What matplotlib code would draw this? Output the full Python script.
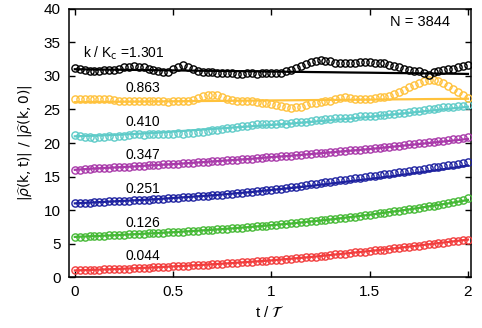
import numpy as np
import matplotlib
matplotlib.use("Agg")
from matplotlib import pyplot as plt

plt.rcParams['font.family'] = ['Liberation Sans', 'DejaVu Sans']
plt.rcParams['mathtext.fontset'] = 'dejavusans'

# time axis for the measured points (81) and the theory curves (21)
t_pts = np.linspace(0, 2, 81)
t_line = np.linspace(0, 2, 21)

labels = ["0.044", "0.126", "0.251", "0.347", "0.410", "0.863", "k / K$_\\mathrm{c}$ =1.301"]
label_y = [3.1, 8.1, 13.1, 18.2, 23.1, 28.2, 33.4]
colors = ["#f23d3d", "#45b935", "#1e22a0", "#a93aaa", "#5ecbc8", "#ffc23c", "#000000"]

red_pts = [1.0, 1.02, 1.05, 1.08, 1.1, 1.12, 1.15, 1.18, 1.2, 1.23, 1.26, 1.29,
           1.32, 1.35, 1.38, 1.42, 1.45, 1.49, 1.52, 1.56, 1.6, 1.64, 1.67, 1.71,
           1.75, 1.79, 1.83, 1.88, 1.92, 1.96, 2.01, 2.05, 2.1, 2.15, 2.2, 2.25,
           2.3, 2.35, 2.4, 2.45, 2.5, 2.56, 2.62, 2.69, 2.75, 2.81, 2.88, 2.94,
           3.0, 3.08, 3.15, 3.22, 3.3, 3.38, 3.45, 3.52, 3.6, 3.68, 3.75, 3.82,
           3.9, 3.98, 4.05, 4.12, 4.2, 4.29, 4.38, 4.46, 4.55, 4.64, 4.72, 4.81,
           4.9, 4.99, 5.08, 5.16, 5.25, 5.34, 5.42, 5.51, 5.6]
green_pts = [6.0, 6.03, 6.06, 6.09, 6.12, 6.15, 6.19, 6.22, 6.25, 6.29, 6.33, 6.36,
             6.4, 6.44, 6.48, 6.51, 6.55, 6.59, 6.63, 6.66, 6.7, 6.75, 6.79, 6.84,
             6.88, 6.93, 6.97, 7.02, 7.07, 7.12, 7.17, 7.22, 7.27, 7.33, 7.39, 7.44,
             7.5, 7.56, 7.63, 7.69, 7.75, 7.81, 7.88, 7.94, 8.0, 8.08, 8.15, 8.22,
             8.3, 8.38, 8.45, 8.52, 8.6, 8.69, 8.78, 8.86, 8.95, 9.04, 9.13, 9.21,
             9.3, 9.4, 9.5, 9.6, 9.7, 9.8, 9.9, 10.0, 10.1, 10.21, 10.33, 10.44,
             10.55, 10.66, 10.78, 10.89, 11.0, 11.15, 11.3, 11.5, 11.75]
blue_pts = [11.0, 11.05, 11.1, 11.1, 11.15, 11.2, 11.25, 11.3, 11.3, 11.35, 11.4, 11.4,
            11.45, 11.5, 11.55, 11.55, 11.6, 11.65, 11.7, 11.75, 11.8, 11.85, 11.9, 11.95,
            12.0, 12.05, 12.1, 12.15, 12.2, 12.25, 12.3, 12.4, 12.45, 12.5, 12.55, 12.65,
            12.7, 12.8, 12.85, 12.95, 13.0, 13.1, 13.2, 13.3, 13.4, 13.5, 13.6, 13.7,
            13.85, 13.95, 14.05, 14.15, 14.25, 14.35, 14.45, 14.55, 14.65, 14.75, 14.85, 14.95,
            15.05, 15.15, 15.25, 15.35, 15.45, 15.55, 15.65, 15.75, 15.85, 15.95, 16.05, 16.15,
            16.25, 16.35, 16.45, 16.55, 16.65, 16.75, 16.85, 16.95, 17.1]
purple_pts = [16.0, 16.05, 16.1, 16.15, 16.2, 16.25, 16.3, 16.3, 16.35, 16.4, 16.45, 16.45,
              16.5, 16.55, 16.6, 16.65, 16.7, 16.75, 16.8, 16.8, 16.85, 16.9, 16.95, 17.0,
              17.05, 17.1, 17.15, 17.2, 17.25, 17.3, 17.35, 17.4, 17.45, 17.5, 17.55, 17.6,
              17.65, 17.7, 17.75, 17.85, 17.9, 17.95, 18.0, 18.05, 18.1, 18.2, 18.25, 18.3,
              18.35, 18.45, 18.5, 18.55, 18.6, 18.7, 18.75, 18.8, 18.9, 18.95, 19.0, 19.1,
              19.15, 19.25, 19.3, 19.4, 19.45, 19.55, 19.6, 19.7, 19.8, 19.85, 19.95, 20.0,
              20.1, 20.2, 20.25, 20.35, 20.45, 20.55, 20.6, 20.7, 20.85]
cyan_pts = [21.2, 21.0, 20.9, 20.9, 20.8, 20.9, 20.9, 21.0, 20.9, 21.0, 21.1,
            21.2, 21.3, 21.3, 21.2, 21.3, 21.4, 21.3, 21.4, 21.4, 21.4, 21.5, 21.4, 21.5,
            21.5, 21.6, 21.7, 21.8, 21.9, 22.0, 22.1, 22.2, 22.3, 22.4, 22.5, 22.6, 22.7,
            22.8, 22.8, 22.9, 22.9, 22.9, 23.0, 22.9, 23.0, 23.1, 23.1, 23.2, 23.3,
            23.4, 23.5, 23.6, 23.6, 23.7, 23.7, 23.8, 23.8, 23.9, 24.0, 24.0,
            24.1, 24.1, 24.2, 24.2, 24.3, 24.3, 24.4, 24.5, 24.6, 24.7,
            24.8, 24.9, 25.0, 25.1, 25.2, 25.3, 25.4, 25.4, 25.5, 25.5, 25.6]
yellow_pts = [26.5, 26.5, 26.6, 26.6, 26.5, 26.6, 26.6, 26.5,
              26.4, 26.3, 26.3, 26.2, 26.2, 26.3, 26.2, 26.2, 26.3, 26.2, 26.2, 26.1,
              26.2, 26.2, 26.3, 26.3, 26.4,
              26.7, 27.0, 27.2, 27.2, 27.1, 26.9, 26.6,
              26.4, 26.3, 26.3, 26.2, 26.2, 26.1, 26.0,
              25.9, 25.8, 25.7,
              25.5, 25.3, 25.2, 25.3, 25.4,
              25.7, 25.9, 26.0, 26.1, 26.2, 26.3,
              26.5, 26.7, 26.8, 26.7, 26.6, 26.6, 26.5,
              26.6, 26.7, 26.8, 26.9, 27.0,
              27.3, 27.6, 27.9, 28.3,
              28.7, 29.0, 29.3, 29.4, 29.4, 29.2, 28.9,
              28.5, 28.0, 27.6, 27.1, 26.7]
black_pts = [31.2, 31.0, 30.9, 30.8, 30.8, 30.8, 30.9, 30.9, 30.9, 31.0,
             31.3, 31.4, 31.5, 31.4, 31.3,
             31.0, 30.9, 30.8, 30.6, 30.6,
             31.0, 31.4, 31.6, 31.4,
             31.0, 30.7, 30.6, 30.6, 30.6, 30.5,
             30.4, 30.4, 30.4, 30.3, 30.3, 30.4, 30.4, 30.3, 30.4, 30.4,
             30.4, 30.4, 30.5,
             30.7, 30.9, 31.2, 31.5,
             31.8, 32.1, 32.3, 32.4, 32.3, 32.2, 32.0,
             31.9, 31.9,
             32.0, 32.0, 32.1, 32.1, 32.1, 32.0, 32.0, 31.9, 31.7,
             31.5, 31.3, 31.1,
             30.9, 30.8, 30.7,
             30.5, 30.2,
             30.6, 30.8, 30.9, 31.0, 31.1,
             31.3, 31.5, 31.7]

red_line = [1.0, 1.1, 1.2, 1.32, 1.45, 1.6, 1.75, 1.92, 2.1, 2.3, 2.5,
            2.75, 3.0, 3.3, 3.6, 3.9, 4.2, 4.55, 4.9, 5.25, 5.6]
green_line = [6.0, 6.12, 6.25, 6.4, 6.55, 6.7, 6.88, 7.07, 7.27, 7.5, 7.75,
              8.0, 8.3, 8.6, 8.95, 9.3, 9.7, 10.1, 10.55, 11.0, 11.5]
blue_line = [11.0, 11.15, 11.3, 11.45, 11.6, 11.8, 12.0, 12.2, 12.45, 12.7, 13.0,
             13.3, 13.6, 13.95, 14.3, 14.65, 15.0, 15.4, 15.8, 16.2, 16.65]
purple_line = [16.0, 16.2, 16.35, 16.5, 16.7, 16.85, 17.05, 17.25, 17.45, 17.65, 17.9,
               18.1, 18.35, 18.6, 18.85, 19.1, 19.4, 19.7, 20.0, 20.3, 20.6]
cyan_line = [21.0, 21.1, 21.2, 21.35, 21.5, 21.7, 21.9, 22.1, 22.3, 22.5, 22.7,
             22.9, 23.15, 23.4, 23.65, 23.9, 24.2, 24.5, 24.8, 25.1, 25.4]
yellow_line = [26.1, 26.12, 26.15, 26.17, 26.2, 26.22, 26.25, 26.27, 26.3, 26.32, 26.35,
               26.37, 26.4, 26.42, 26.45, 26.47, 26.5, 26.52, 26.55, 26.57, 26.6]
black_line = [31.0, 30.96, 30.93, 30.9, 30.86, 30.83, 30.79, 30.76, 30.72, 30.69, 30.65,
              30.62, 30.58, 30.55, 30.51, 30.48, 30.44, 30.41, 30.37, 30.34, 30.3]

points = [red_pts, green_pts, blue_pts, purple_pts, cyan_pts, yellow_pts, black_pts]
lines = [red_line, green_line, blue_line, purple_line, cyan_line, yellow_line, black_line]

fig = plt.figure(figsize=(4.82, 3.28), dpi=100)
ax = fig.add_axes([0.143, 0.155, 0.834, 0.818])

for pts, ln, c in zip(points, lines, colors):
    ax.plot(t_line, ln, color=c, lw=1.6, zorder=2)
    ax.plot(t_pts, pts, 'o', mfc='none', mec=c, ms=5.2, mew=1.0, zorder=3)

for lab, y in zip(labels, label_y):
    if lab.startswith("k"):
        ax.text(0.04, y, lab, fontsize=10, ha='left', va='center')
    else:
        ax.text(0.345, y, lab, fontsize=10, ha='center', va='center')

ax.text(1.755, 38.1, "N = 3844", fontsize=10.5, ha='center', va='center')

ax.set_xlim(-0.03, 2.015)
ax.set_ylim(0, 40)
ax.set_xticks([0, 0.5, 1, 1.5, 2])
ax.set_xticklabels(["0", "0.5", "1", "1.5", "2"])
ax.set_yticks(range(0, 41, 5))
ax.tick_params(direction='in', top=True, right=True, length=4, width=1,
               labelsize=11, pad=6)
for s in ax.spines.values():
    s.set_linewidth(1.1)

ax.set_xlabel(r"t / $\mathcal{T}$", fontsize=11, labelpad=4)
ax.set_ylabel(r"$|\widehat{\rho}(\mathrm{k,t})|\ /\ |\widehat{\rho}(\mathrm{k,0})|$",
              fontsize=10, labelpad=6)

fig.savefig("out.png", dpi=100)
